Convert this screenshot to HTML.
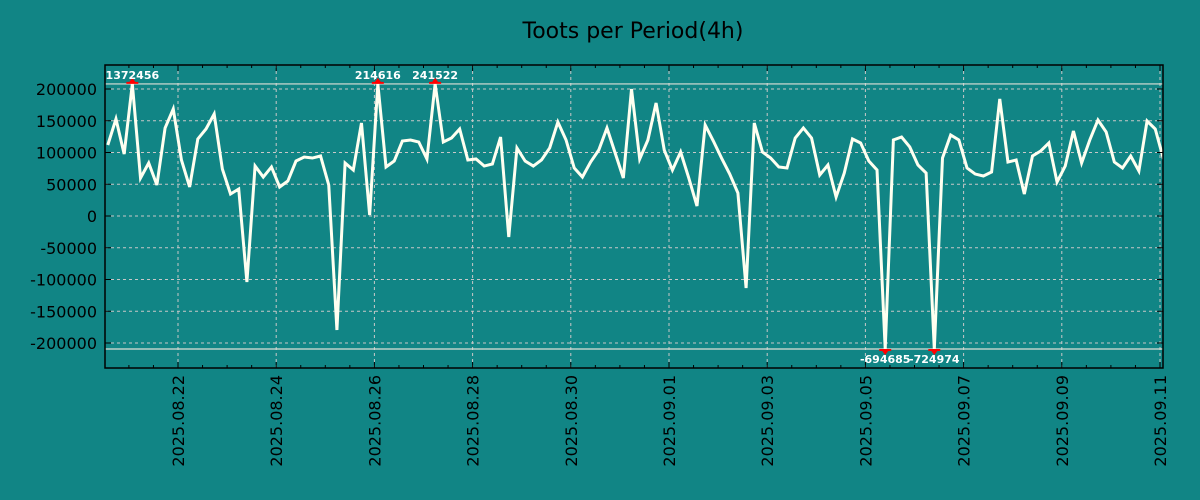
<!DOCTYPE html>
<html><head><meta charset="utf-8"><style>
html,body{margin:0;padding:0;background:#118585;}
svg{display:block;font-family:"DejaVu Sans","Liberation Sans",sans-serif;}
</style></head><body>
<svg id="chart" width="1200" height="500">
<rect x="0" y="0" width="1200" height="500" fill="#118585"/>
<text x="633" y="38" font-size="22" text-anchor="middle" fill="#000">Toots per Period(4h)</text>
<g id="grid"></g>
<g id="series"></g>
<g id="axes"></g>
</svg>
<script>
const values = [111800,152800,97600,1372456,59800,83500,48800,138600,168500,88200,
45700,121300,137000,160600,74000,34600,42500,-104000,78700,61400,
77200,45700,55100,86600,92900,91300,94500,48800,-179500,83500,
72400,146500,1600,214616,77200,86600,118100,119700,116500,89800,
241522,116500,122800,137000,88200,89800,78700,81900,124400,-33100,
107100,86600,78700,88200,107100,148000,119700,75600,61400,85000,
103900,138600,99200,59800,200000,89800,119700,178000,103900,72400,
100800,59800,15700,143300,118100,91300,66100,36200,-113400,146500,
100800,91300,77200,75600,122800,138600,122800,64600,80300,29900,
67700,121300,115000,86600,72400,-694685,119700,124400,108700,80300,
67700,-724974,91300,127600,119700,75600,66100,63000,69300,184300,
85000,88200,34600,94500,102400,115000,53500,78700,133900,83500,
119700,151200,132300,85000,75600,94500,70900,149600,137000,89800];
const yTicks = [200000,150000,100000,50000,0,-50000,-100000,-150000,-200000];
const xTickLabels = ["2025.08.22","2025.08.24","2025.08.26","2025.08.28","2025.08.30","2025.09.01","2025.09.03","2025.09.05","2025.09.07","2025.09.09","2025.09.11"];
const clipHi = 208000, clipLo = -209500;
const startDay = -1.43;      // days relative to 2025.08.22, first sample
const stepDay = 4/24;

const NS="http://www.w3.org/2000/svg";
const L=105,R=1163,T=65,B=368;
const xScale = d => 178 + d*49.1;
const yScale = v => 216 - v/200000*127;
function mk(tag,attrs,parent){const e=document.createElementNS(NS,tag);for(const k in attrs)e.setAttribute(k,attrs[k]);parent.appendChild(e);return e;}
const grid=document.getElementById('grid'), series=document.getElementById('series'), axes=document.getElementById('axes');

yTicks.forEach(v=>{
  const y=yScale(v);
  const g=mk('line',{x1:L,x2:R,y1:y,y2:y,stroke:'#c8c8c8','stroke-dasharray':'3,3','stroke-width':1},grid);
  
  
  const t=mk('text',{x:97,y:y+6,'font-size':16,'text-anchor':'end',fill:'#000'},axes);
  t.textContent=String(v);
  
  
  mk('line',{x1:L,x2:L+6,y1:y,y2:y,stroke:'#000'},axes);
  mk('line',{x1:R-6,x2:R,y1:y,y2:y,stroke:'#000'},axes);
});
xTickLabels.forEach((lab,i)=>{
  const x=xScale(i*2);
  const g=mk('line',{x1:x,x2:x,y1:T,y2:B,stroke:'#c8c8c8','stroke-dasharray':'3,3','stroke-width':1},grid);
  
  
  mk('line',{x1:x,x2:x,y1:B-6,y2:B,stroke:'#000'},axes);
  mk('line',{x1:x,x2:x,y1:T,y2:T+6,stroke:'#000'},axes);
  const t=mk('text',{x:0,y:0,'font-size':16,'text-anchor':'end',fill:'#000',transform:`translate(${x+6},375) rotate(-90)`},axes);
  t.textContent=lab;
  
  
});
for(let d=-1.5; d<=20.5; d+=0.5){
  const x=xScale(d); if(x<L||x>R) continue;
  if(Math.abs(d/2-Math.round(d/2))<1e-6) continue;
  mk('line',{x1:x,x2:x,y1:B-3,y2:B,stroke:'#000'},axes);
  mk('line',{x1:x,x2:x,y1:T,y2:T+3,stroke:'#000'},axes);
}
[clipHi,clipLo].forEach(v=>{
  const l=mk('line',{x1:L,x2:R,y1:yScale(v),y2:yScale(v),stroke:'#e0e0d8','stroke-width':1.2},grid);
  
  
});
const pts=values.map((v,i)=>[xScale(startDay+i*stepDay), yScale(Math.max(clipLo,Math.min(clipHi,v)))]);
mk('clipPath',{id:'pc'},series).appendChild(document.createElementNS(NS,'rect'));
const cr=series.querySelector('clipPath rect');cr.setAttribute('x',L);cr.setAttribute('y',T);cr.setAttribute('width',R-L);cr.setAttribute('height',B-T);
const path=mk('polyline',{points:pts.map(p=>p.join(',')).join(' '),fill:'none',stroke:'#fffff0','stroke-width':3,'stroke-linejoin':'miter','clip-path':'url(#pc)'},series);


values.forEach((v,i)=>{
  if(v<=clipHi && v>=clipLo) return;
  const [x,y]=pts[i];
  const up=v>clipHi;
  const m=mk('path',{d: up?`M${x-6},${y} L${x+6},${y} L${x+6},${y-2} L${x+3},${y-2} L${x},${y-6} L${x-3},${y-2} L${x-6},${y-2}Z`
                         :`M${x-6},${y} L${x+6},${y} L${x+6},${y+2} L${x+3},${y+2} L${x},${y+6} L${x-3},${y+2} L${x-6},${y+2}Z`,fill:'#f00'},series);
  
  
  const t=mk('text',{x:x,y:up?y-5:y+14,'font-size':11,'font-weight':'bold','text-anchor':'middle',fill:'#fff'},series);
  t.textContent=String(v);
  
  
});
const fr=mk('rect',{x:L,y:T,width:R-L,height:B-T,fill:'none',stroke:'#000','stroke-width':1.5},axes);


</script>
</body></html>
